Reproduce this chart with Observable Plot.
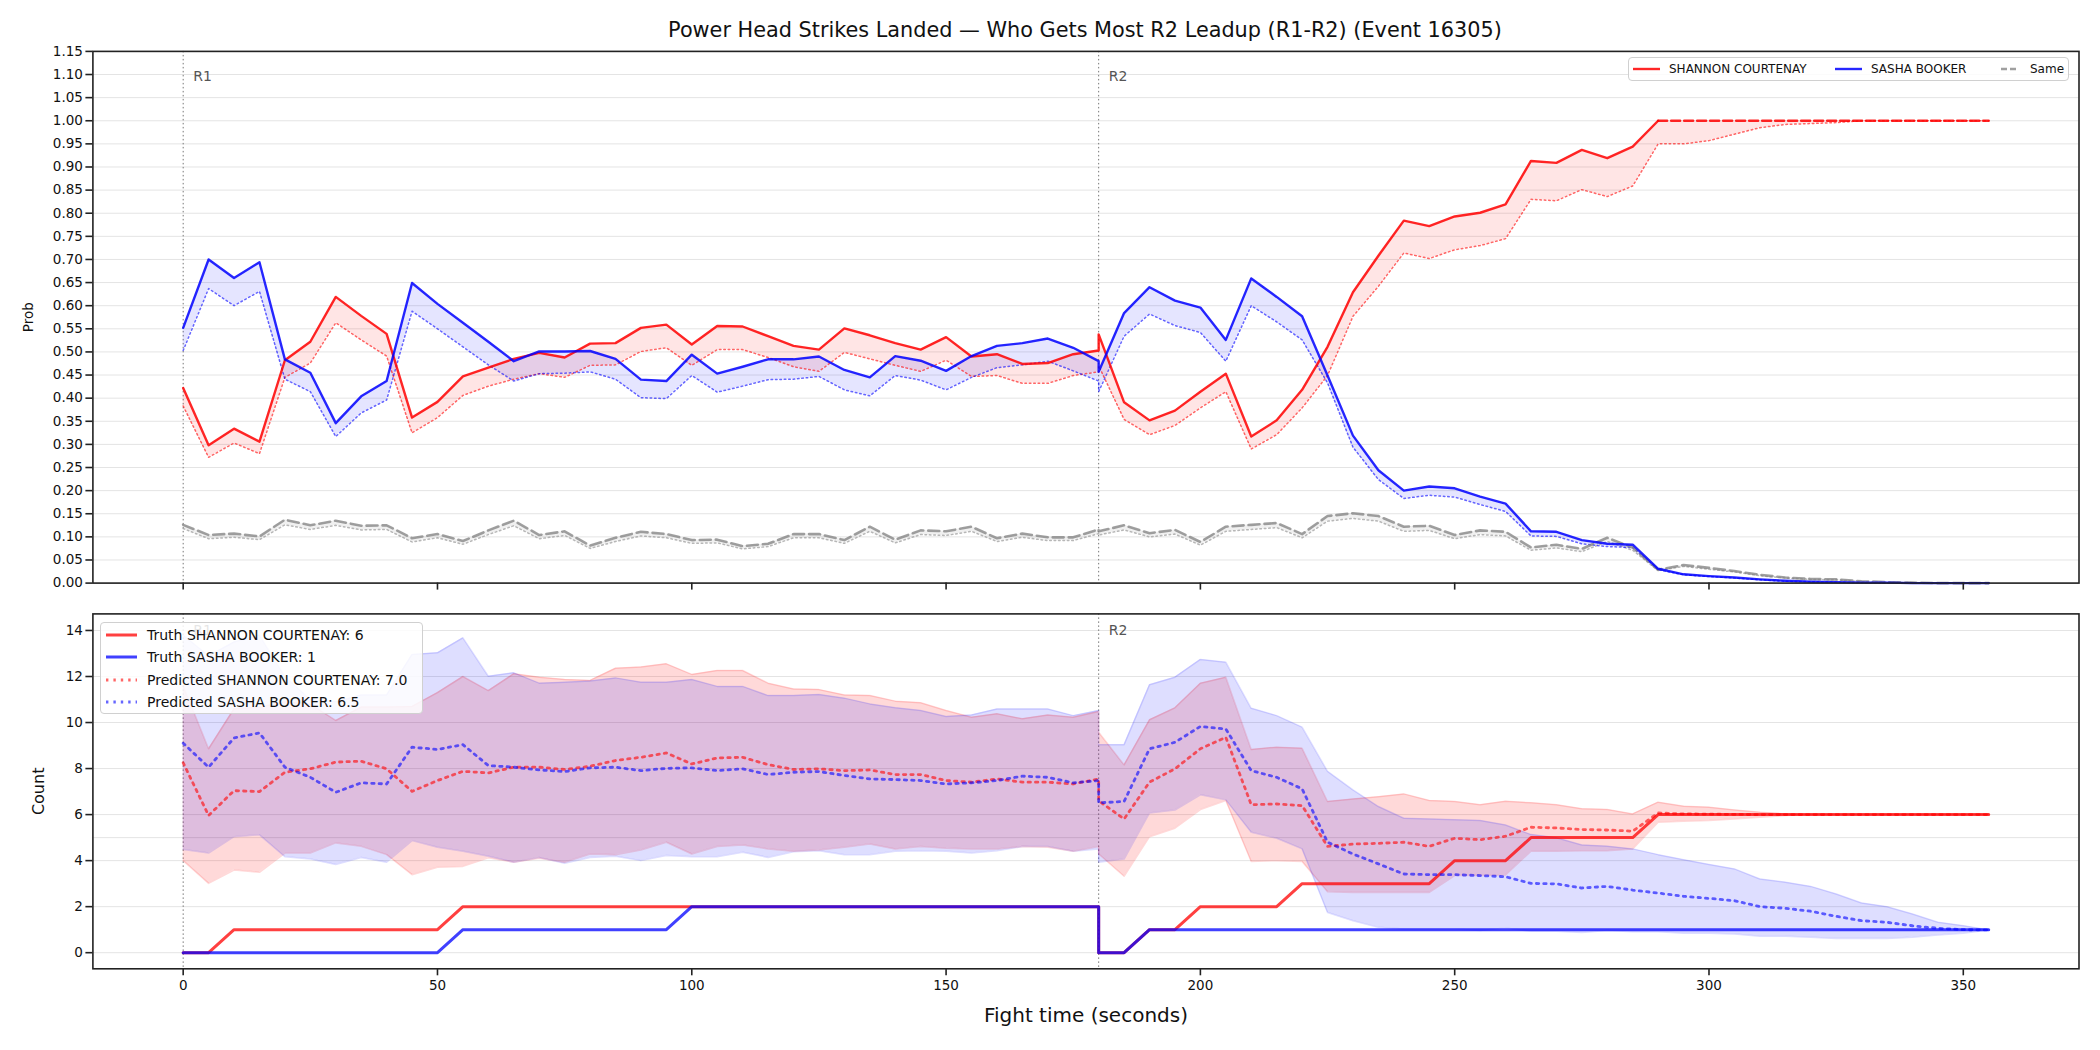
<!DOCTYPE html>
<html>
<head>
<meta charset="utf-8">
<script src="https://cdn.jsdelivr.net/npm/d3@7"></script>
<script src="https://cdn.jsdelivr.net/npm/@observablehq/plot@0.6"></script>
<style>
  body { margin: 0; background: #fff; font-family: "DejaVu Sans", sans-serif; }
  #wrap { position: relative; width: 2100px; height: 1050px; overflow: hidden; background: #fff; }
  #title { position: absolute; top: 18px; left: 0; width: 2170px; text-align: center; font-size: 20.8px; color: #111; }
  #topPanel { position: absolute; left: 0; top: 0; }
  #bottomPanel { position: absolute; left: 0; top: 610px; }
  .legend { position: absolute; background: rgba(255,255,255,0.85); border: 1.5px solid #d0d0d0; border-radius: 4px; box-sizing: border-box; color: #111; }
  .legend .row { position: absolute; white-space: nowrap; display: flex; align-items: center; }
  .legend svg { display: block; }
  #bottomPanel g[aria-label="y-axis label"], #bottomPanel g[aria-label="y-axis label"] text { font-size: 16px; }
  #bottomPanel g[aria-label="x-axis label"], #bottomPanel g[aria-label="x-axis label"] text { font-size: 20px; }
</style>
</head>
<body>
<div id="wrap">
  <div id="title">Power Head Strikes Landed — Who Gets Most R2 Leadup (R1-R2) (Event 16305)</div>
  <div id="topPanel"></div>
  <div id="bottomPanel"></div>
  <div id="legTop" class="legend"></div>
  <div id="legBot" class="legend"></div>
</div>
<script>
// ---------- DATA ----------
const fighterA = "SHANNON COURTENAY";
const fighterB = "SASHA BOOKER";
const truthA = 6, truthB = 1, predA = "7.0", predB = "6.5";
const roundStarts = [0, 180];
const roundLabels = ["R1", "R2"];
const xTicks = [0, 50, 100, 150, 200, 250, 300, 350];
const yTicksTop = d3.range(0, 24).map(i => +(i * 0.05).toFixed(2));
const yTicksBottom = [0, 2, 4, 6, 8, 10, 12, 14];
const refLine = [5];
const redDashFrom = 290;

// time (s); R1 segment then R2 segment, 180 appears in both
const time = [0,5,10,15,20,25,30,35,40,45,50,55,60,65,70,75,80,85,90,95,100,105,110,115,120,125,130,135,140,145,150,155,160,165,170,175,180,
  180,185,190,195,200,205,210,215,220,225,230,235,240,245,250,255,260,265,270,275,280,285,290,295,300,305,310,315,320,325,330,335,340,345,350,355];
const segment = time.map((t, i) => i < 37 ? "R1" : "R2");

// Top panel: probabilities
const probA = [.422,.298,.334,.306,.482,.522,.619,.578,.539,.358,.392,.447,.466,.485,.498,.488,.518,.519,.552,.559,.516,.556,.555,.534,.513,.505,.551,.536,.519,.505,.532,.490,.495,.474,.476,.495,.503,
  .538,.391,.352,.373,.414,.453,.317,.352,.418,.511,.629,.708,.784,.772,.793,.801,.819,.913,.909,.937,.919,.944,1,1,1,1,1,1,1,1,1,1,1,1,1,1];
const probALow = [.383,.272,.303,.280,.445,.476,.563,.526,.491,.325,.358,.406,.426,.441,.453,.445,.471,.472,.501,.509,.471,.505,.505,.488,.468,.458,.499,.485,.471,.458,.482,.447,.449,.432,.432,.449,.457,
  .470,.354,.321,.341,.379,.414,.290,.321,.379,.449,.577,.642,.714,.702,.721,.730,.745,.830,.827,.851,.836,.859,.950,.950,.957,.971,.985,.992,.994,.996,1,1,1,1,1,1];
const probB = [.552,.700,.660,.694,.484,.455,.346,.404,.437,.649,.604,.563,.522,.480,.501,.501,.502,.485,.440,.437,.494,.453,.468,.484,.484,.490,.461,.445,.491,.481,.459,.491,.513,.519,.529,.509,.480,
  .457,.584,.640,.611,.596,.526,.659,.619,.577,.449,.319,.244,.200,.209,.205,.187,.172,.112,.111,.093,.085,.083,.031,.019,.015,.012,.008,.005,.003,.002,.001,.001,0,0,0,0];
const probBLow = [.503,.637,.600,.631,.441,.414,.317,.368,.396,.588,.550,.511,.472,.437,.453,.454,.457,.441,.401,.399,.449,.413,.426,.440,.441,.447,.418,.405,.449,.439,.418,.445,.466,.472,.480,.459,.437,
  .414,.534,.582,.557,.542,.480,.600,.565,.526,.433,.294,.224,.183,.190,.186,.170,.155,.102,.101,.085,.079,.077,.029,.018,.014,.011,.007,.004,.003,.002,.001,0,0,0,0,0];
const probSame = [.126,.104,.107,.101,.137,.125,.135,.124,.125,.097,.106,.091,.114,.135,.104,.112,.081,.098,.111,.106,.093,.094,.080,.085,.106,.106,.093,.122,.094,.114,.112,.122,.097,.107,.099,.099,.116,
  .112,.125,.108,.115,.089,.122,.126,.130,.106,.145,.151,.145,.122,.124,.104,.114,.111,.077,.083,.074,.098,.077,.029,.039,.033,.026,.018,.012,.009,.008,.004,.002,.001,0,0,0];
const probSameLow = [.118,.096,.099,.094,.126,.116,.125,.115,.116,.089,.098,.084,.105,.124,.096,.103,.075,.090,.102,.098,.086,.087,.074,.079,.098,.098,.086,.112,.087,.105,.103,.112,.090,.099,.092,.092,.107,
  .104,.115,.100,.106,.082,.112,.116,.120,.098,.134,.140,.134,.112,.114,.096,.105,.102,.071,.076,.068,.090,.071,.027,.036,.030,.024,.016,.011,.008,.007,.003,.002,.001,0,0,0];

// Bottom panel: counts
const truthCountA = [0,0,1,1,1,1,1,1,1,1,1,2,2,2,2,2,2,2,2,2,2,2,2,2,2,2,2,2,2,2,2,2,2,2,2,2,2,
  0,0,1,1,2,2,2,2,3,3,3,3,3,3,4,4,4,5,5,5,5,5,6,6,6,6,6,6,6,6,6,6,6,6,6,6];
const truthCountB = [0,0,0,0,0,0,0,0,0,0,0,1,1,1,1,1,1,1,1,1,2,2,2,2,2,2,2,2,2,2,2,2,2,2,2,2,2,
  0,0,1,1,1,1,1,1,1,1,1,1,1,1,1,1,1,1,1,1,1,1,1,1,1,1,1,1,1,1,1,1,1,1,1,1];
const predCountA = [8.25,5.96,7.04,7.0,7.84,7.99,8.28,8.32,7.99,7.01,7.48,7.88,7.81,8.06,8.06,7.96,8.10,8.35,8.49,8.68,8.20,8.46,8.49,8.17,7.96,7.99,7.91,7.94,7.74,7.74,7.48,7.41,7.55,7.41,7.41,7.33,7.55,
  6.6,5.81,7.41,7.99,8.86,9.36,6.43,6.46,6.39,4.62,4.72,4.75,4.80,4.62,4.97,4.91,5.06,5.45,5.42,5.35,5.33,5.28,6.07,6.03,6.02,6.01,6.0,6,6,6,6,6,6,6,6,6];
const predCountB = [9.10,8.06,9.33,9.55,8.06,7.62,6.97,7.38,7.33,8.93,8.83,9.04,8.13,8.06,7.94,7.87,8.03,8.06,7.91,8.01,8.03,7.91,7.99,7.74,7.84,7.87,7.70,7.55,7.52,7.48,7.33,7.38,7.48,7.67,7.62,7.38,7.48,
  6.51,6.57,8.86,9.14,9.83,9.72,7.91,7.62,7.12,4.80,4.29,3.86,3.42,3.39,3.39,3.35,3.30,3.01,2.99,2.81,2.88,2.72,2.59,2.45,2.36,2.26,2.0,1.93,1.80,1.58,1.39,1.32,1.17,1.06,1.0,0.99];
const bandAHigh = [11.6,8.86,10.6,10.67,10.9,10.8,10.09,10.67,10.67,10.7,11.3,12.0,11.39,12.12,11.97,11.87,11.83,12.36,12.41,12.55,12.09,12.26,12.26,11.71,11.46,11.43,11.20,11.17,10.93,10.86,10.52,10.23,10.38,10.16,10.33,10.23,10.48,
  9.58,8.16,10.12,10.64,11.71,11.97,8.83,8.93,8.88,6.57,6.68,6.78,6.90,6.61,6.57,6.43,6.58,6.51,6.43,6.25,6.22,6.03,6.54,6.36,6.32,6.20,6.10,6.03,6,6,6,6,6,6,6,6];
const bandALow = [4.0,3.01,3.59,3.49,4.33,4.33,4.77,4.62,4.26,3.39,3.71,3.75,4.12,3.93,4.10,3.93,4.29,4.25,4.46,4.80,4.29,4.61,4.68,4.51,4.41,4.46,4.58,4.72,4.51,4.61,4.54,4.51,4.51,4.61,4.58,4.41,4.61,
  4.29,3.32,5.04,5.41,6.22,6.61,3.96,4.0,3.96,2.65,2.62,2.62,2.62,2.62,3.35,3.35,3.38,4.41,4.41,4.43,4.43,4.51,5.67,5.71,5.74,5.81,5.88,5.96,6,6,6,6,6,6,6,6];
const bandBHigh = [13.8,12.9,13.5,13.8,12.0,11.0,10.9,11.2,11.2,12.96,13.03,13.68,12.01,12.16,11.71,11.75,11.80,11.94,11.75,11.75,11.87,11.57,11.57,11.17,11.17,11.22,11.06,10.81,10.64,10.52,10.26,10.33,10.59,10.59,10.59,10.30,10.52,
  9.04,9.04,11.64,11.97,12.74,12.62,10.62,10.30,9.80,7.88,7.07,6.35,5.84,5.81,5.78,5.74,5.55,5.13,4.99,4.68,4.62,4.51,4.26,4.04,3.83,3.64,3.20,3.06,2.88,2.55,2.16,2.0,1.68,1.32,1.17,0.99];
const bandBLow = [4.48,4.33,5.04,5.12,4.17,4.07,3.83,4.14,3.93,4.87,4.58,4.41,4.19,3.93,4.14,3.88,4.14,4.19,4.0,4.22,4.17,4.17,4.36,4.14,4.39,4.43,4.26,4.26,4.41,4.43,4.41,4.33,4.43,4.61,4.61,4.41,4.51,
  3.93,4.07,6.07,6.20,6.86,6.64,5.23,4.97,4.51,1.75,1.39,1.10,1.03,1.03,1.03,0.96,1.07,0.93,0.93,0.88,0.96,0.91,0.91,0.84,0.84,0.81,0.71,0.71,0.67,0.62,0.62,0.62,0.67,0.77,0.84,0.99];

// ---------- TABLE ----------
const rows = time.map((t, i) => ({
  t, seg: segment[i],
  pA: probA[i], pAl: probALow[i], pB: probB[i], pBl: probBLow[i], pS: probSame[i], pSl: probSameLow[i],
  tA: truthCountA[i], tB: truthCountB[i], cA: predCountA[i], cB: predCountB[i],
  aH: bandAHigh[i], aL: bandALow[i], bH: bandBHigh[i], bL: bandBLow[i]
}));
const solidA = rows.filter(d => !(d.seg === "R2" && d.t > redDashFrom));
const dashA = rows.filter(d => d.seg === "R2" && d.t >= redDashFrom);
const rLabels = roundStarts.map((x, i) => ({x, label: roundLabels[i]}));

const X = {domain: [-17.75, 372.75]};
const AX = "#222";
const DOT = "2.4,5";
const styleBase = {fontFamily: "'DejaVu Sans', sans-serif", fontSize: "13.5px", color: AX, background: "transparent", overflow: "visible"};

// ---------- TOP PANEL ----------
const topChart = Plot.plot({
  width: 2100, height: 610,
  marginTop: 50.9, marginBottom: 27.4, marginLeft: 92.4, marginRight: 21.5,
  x: X, y: {domain: [0, 1.15]},
  style: styleBase,
  marks: [
    Plot.gridY(yTicksTop, {stroke: "#e4e4e4", strokeOpacity: 1, strokeWidth: 1}),
    Plot.ruleX(roundStarts, {stroke: "#777", strokeWidth: 1, strokeDasharray: "1.5,2.5"}),
    Plot.areaY(rows, {x: "t", y1: "pSl", y2: "pS", fill: "gray", fillOpacity: 0.12}),
    Plot.areaY(rows, {x: "t", y1: "pAl", y2: "pA", fill: "red", fillOpacity: 0.1}),
    Plot.areaY(rows, {x: "t", y1: "pBl", y2: "pB", fill: "blue", fillOpacity: 0.1}),
    Plot.line(rows, {x: "t", y: "pSl", stroke: "#999", strokeWidth: 1.5, strokeOpacity: 0.7, strokeDasharray: "1.6,2.8"}),
    Plot.line(rows, {x: "t", y: "pAl", stroke: "red", strokeWidth: 1.5, strokeOpacity: 0.6, strokeDasharray: "1.6,2.8"}),
    Plot.line(rows, {x: "t", y: "pBl", stroke: "blue", strokeWidth: 1.5, strokeOpacity: 0.6, strokeDasharray: "1.6,2.8"}),
    Plot.line(rows, {x: "t", y: "pS", stroke: "gray", strokeWidth: 2.6, strokeOpacity: 0.75, strokeDasharray: "11,5"}),
    Plot.line(solidA, {x: "t", y: "pA", stroke: "red", strokeWidth: 2.4, strokeOpacity: 0.85}),
    Plot.line(dashA, {x: "t", y: "pA", stroke: "red", strokeWidth: 2.4, strokeOpacity: 0.85, strokeDasharray: "9,4"}),
    Plot.line(rows, {x: "t", y: "pB", stroke: "blue", strokeWidth: 2.4, strokeOpacity: 0.85}),
    Plot.text(rLabels, {x: "x", y: 1.15 * 0.952, text: "label", dx: 10, textAnchor: "start", fill: "#555", fontSize: 14}),
    Plot.axisX({ticks: xTicks, tickSize: 7, tickFormat: () => "", label: null, strokeWidth: 1.6, stroke: AX}),
    Plot.axisY({ticks: yTicksTop, tickFormat: d3.format(".2f"), tickSize: 7, tickPadding: 3, strokeWidth: 1.6, stroke: AX, fill: "#111",
      label: "Prob", labelAnchor: "center", labelOffset: 69, labelArrow: "none"}),
    Plot.frame({stroke: AX, strokeWidth: 1.6})
  ]
});
document.getElementById("topPanel").appendChild(topChart);

// ---------- BOTTOM PANEL ----------
const bottomChart = Plot.plot({
  width: 2100, height: 440,
  marginTop: 3.4, marginBottom: 81.7, marginLeft: 92.4, marginRight: 21.5,
  x: X, y: {domain: [-0.70, 14.72]},
  style: styleBase,
  marks: [
    Plot.gridY(yTicksBottom, {stroke: "#e4e4e4", strokeOpacity: 1, strokeWidth: 1}),
    Plot.ruleY(refLine, {stroke: "#e4e4e4", strokeWidth: 1}),
    Plot.ruleX(roundStarts, {stroke: "#777", strokeWidth: 1, strokeDasharray: "1.5,2.5"}),
    Plot.areaY(rows, {x: "t", y1: "aL", y2: "aH", fill: "red", fillOpacity: 0.15}),
    Plot.line(rows, {x: "t", y: "aL", stroke: "red", strokeOpacity: 0.15, strokeWidth: 1.5}),
    Plot.line(rows, {x: "t", y: "aH", stroke: "red", strokeOpacity: 0.15, strokeWidth: 1.5}),
    Plot.areaY(rows, {x: "t", y1: "bL", y2: "bH", fill: "blue", fillOpacity: 0.13}),
    Plot.line(rows, {x: "t", y: "bL", stroke: "blue", strokeOpacity: 0.13, strokeWidth: 1.5}),
    Plot.line(rows, {x: "t", y: "bH", stroke: "blue", strokeOpacity: 0.13, strokeWidth: 1.5}),
    Plot.line(rows, {x: "t", y: "tA", stroke: "red", strokeWidth: 3, strokeOpacity: 0.75}),
    Plot.line(rows, {x: "t", y: "tB", stroke: "blue", strokeWidth: 3, strokeOpacity: 0.75}),
    Plot.line(rows, {x: "t", y: "cA", stroke: "red", strokeWidth: 2.8, strokeOpacity: 0.6, strokeDasharray: DOT}),
    Plot.line(rows, {x: "t", y: "cB", stroke: "blue", strokeWidth: 2.8, strokeOpacity: 0.6, strokeDasharray: DOT}),
    Plot.text(rLabels, {x: "x", y: 14.72 * 0.95, text: "label", dx: 10, textAnchor: "start", fill: "#555", fontSize: 14}),
    Plot.axisX({ticks: xTicks, tickSize: 7, tickPadding: 5, strokeWidth: 1.6, stroke: AX, fill: "#111",
      label: "Fight time (seconds)", labelAnchor: "center", labelOffset: 53, labelArrow: "none"}),
    Plot.axisY({ticks: yTicksBottom, tickSize: 7, tickPadding: 3, strokeWidth: 1.6, stroke: AX, fill: "#111",
      label: "Count", labelAnchor: "center", labelOffset: 60, labelArrow: "none"}),
    Plot.frame({stroke: AX, strokeWidth: 1.6})
  ]
});
document.getElementById("bottomPanel").appendChild(bottomChart);

// ---------- LEGENDS ----------
function swatch(color, w, dash, width, opacity) {
  return `<svg width="${w}" height="10"><line x1="0" y1="5" x2="${w}" y2="5" stroke="${color}" stroke-width="${width}" stroke-opacity="${opacity}" ${dash ? `stroke-dasharray="${dash}"` : ""}/></svg>`;
}
const lt = document.getElementById("legTop");
Object.assign(lt.style, {left: "1628px", top: "57px", width: "441px", height: "24px", fontSize: "12px"});
const topItems = [
  {x: 4, label: fighterA, color: "red", dash: null, op: 0.85},
  {x: 206, label: fighterB, color: "blue", dash: null, op: 0.85},
  {x: 372, label: "Same", color: "gray", dash: "6,3", op: 0.75}
];
const topW = [27, 27, 17];
lt.innerHTML = topItems.map((d, i) =>
  `<div class="row" style="left:${d.x}px;top:3px;height:16px;">${swatch(d.color, topW[i], d.dash, 2.4, d.op)}<span style="margin-left:${i===2?12:9}px">${d.label}</span></div>`).join("");

const lb = document.getElementById("legBot");
Object.assign(lb.style, {left: "100px", top: "622px", width: "323px", height: "92px", fontSize: "14px"});
const botItems = [
  {label: `Truth ${fighterA}: ${truthA}`, color: "red", dash: null, op: 0.75},
  {label: `Truth ${fighterB}: ${truthB}`, color: "blue", dash: null, op: 0.75},
  {label: `Predicted ${fighterA}: ${predA}`, color: "red", dash: DOT, op: 0.6},
  {label: `Predicted ${fighterB}: ${predB}`, color: "blue", dash: DOT, op: 0.6}
];
lb.innerHTML = botItems.map((d, i) =>
  `<div class="row" style="left:5px;top:${2 + i * 22.3}px;height:20px;">${swatch(d.color, 31, d.dash, 3, d.op)}<span style="margin-left:10px">${d.label}</span></div>`).join("");
</script>
</body>
</html>
